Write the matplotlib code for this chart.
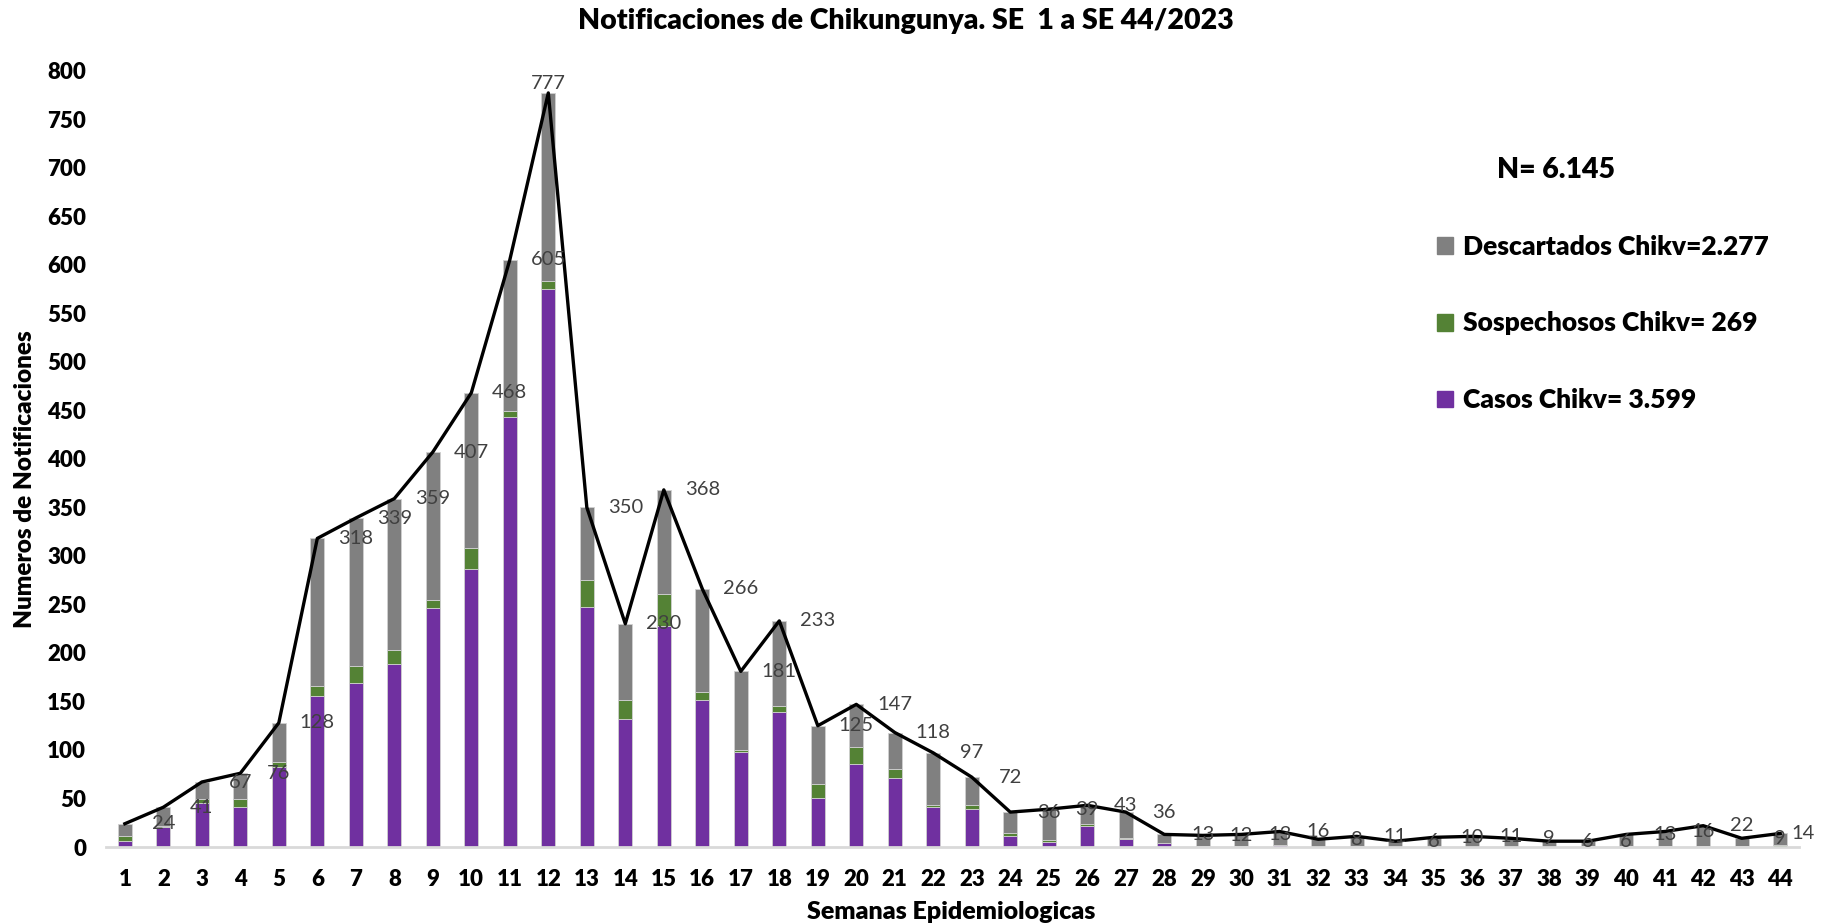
import numpy as np
import matplotlib
matplotlib.use('Agg')
import matplotlib.pyplot as plt
from matplotlib.patches import Patch

plt.rcParams['font.family'] = ['Lato', 'DejaVu Sans']

semanas = list(range(1, 45))
totales = [24, 41, 67, 76, 128, 318, 339, 359, 407, 468, 605, 777, 350, 230, 368,
           266, 181, 233, 125, 147, 118, 97, 72, 36, 39, 43, 36, 13, 12, 13,
           16, 8, 11, 6, 10, 11, 9, 6, 6, 13, 16, 22, 9, 14]
casos = [6, 21, 45, 41, 82, 156, 169, 189, 246, 286, 443, 575, 247, 132, 228,
         152, 98, 139, 51, 86, 71, 41, 39, 11, 5, 22, 8, 4, 1, 0,
         2, 0, 1, 0, 0, 0, 0, 0, 0, 1, 0, 1, 0, 0]
sospechosos = [5, 1, 4, 9, 6, 10, 18, 14, 9, 22, 6, 8, 28, 20, 33,
               8, 2, 6, 14, 17, 9, 2, 4, 3, 2, 2, 1, 0, 0, 1,
               0, 0, 0, 0, 0, 0, 0, 0, 1, 0, 1, 0, 1, 2]
descartados = list(np.array(totales) - np.array(casos) - np.array(sospechosos))

c_casos = '#7030A0'
c_sosp = '#548235'
c_desc = '#808080'
lbl_color = '#404040'
fw = 'heavy'

fig = plt.figure(figsize=(18.46, 9.24), dpi=100)
ax = fig.add_axes([0.0572, 0.0833, 0.9176, 0.8403])

x = np.array(semanas)
w = 0.37
ec = '#D0D0D0'
ax.bar(x, casos, w, color=c_casos, edgecolor=ec, linewidth=0.6)
ax.bar(x, sospechosos, w, bottom=casos, color=c_sosp, edgecolor=ec, linewidth=0.6)
bot2 = np.array(casos) + np.array(sospechosos)
ax.bar(x, descartados, w, bottom=bot2, color=c_desc, edgecolor=ec, linewidth=0.6)
ax.plot(x, totales, color='black', lw=2.4)

# etiquetas de totales (desplazadas una semana, como en el original)
for s, t in zip(semanas, totales):
    if s == 12:
        ax.text(s, t + 1, str(t), ha='center', va='bottom', fontsize=14.5, color=lbl_color)
    elif s == 44:
        ax.text(s + 0.3, t, str(t), ha='left', va='center', fontsize=14.5,
                color=lbl_color, clip_on=False)
    else:
        ax.text(s + 1, t, str(t), ha='center', va='center', fontsize=14.5, color=lbl_color)

ax.set_xlim(0.5, 44.5)
ax.set_ylim(0, 800)
ax.set_xticks(x)
ax.set_xticklabels([str(s) for s in semanas])
ax.set_yticks(range(0, 801, 50))
ax.tick_params(axis='both', length=0, labelsize=16)
ax.tick_params(axis='x', pad=16)
ax.tick_params(axis='y', pad=14)
for lab in ax.get_xticklabels() + ax.get_yticklabels():
    lab.set_fontweight(fw)
for sp in ['top', 'right', 'left']:
    ax.spines[sp].set_visible(False)
ax.spines['bottom'].set_color('#D9D9D9')
ax.spines['bottom'].set_linewidth(2)

fig.text(0.4908, 0.977, 'Notificaciones de Chikungunya. SE  1 a SE 44/2023',
         ha='center', va='center', fontsize=20.5, fontweight=fw)
fig.text(0.0135, 0.481, 'Numeros de Notificaciones', rotation=90, ha='center',
         va='center', fontsize=17.5, fontweight=fw)
fig.text(0.515, 0.013, 'Semanas Epidemiologicas', ha='center', va='center',
         fontsize=18, fontweight=fw)
fig.text(0.843, 0.816, 'N= 6.145', ha='center', va='center', fontsize=20.5, fontweight=fw)

handles = [Patch(color=c_desc, label='Descartados Chikv=2.277'),
           Patch(color=c_sosp, label='Sospechosos Chikv= 269'),
           Patch(color=c_casos, label='Casos Chikv= 3.599')]
fig.legend(handles=handles, loc='upper left', bbox_to_anchor=(0.7785, 0.746),
           frameon=False, prop={'weight': fw, 'size': 19},
           handlelength=0.6, handleheight=0.6, handletextpad=0.4,
           labelspacing=2.0, borderpad=0, borderaxespad=0)

fig.savefig('out.png', dpi=100)
